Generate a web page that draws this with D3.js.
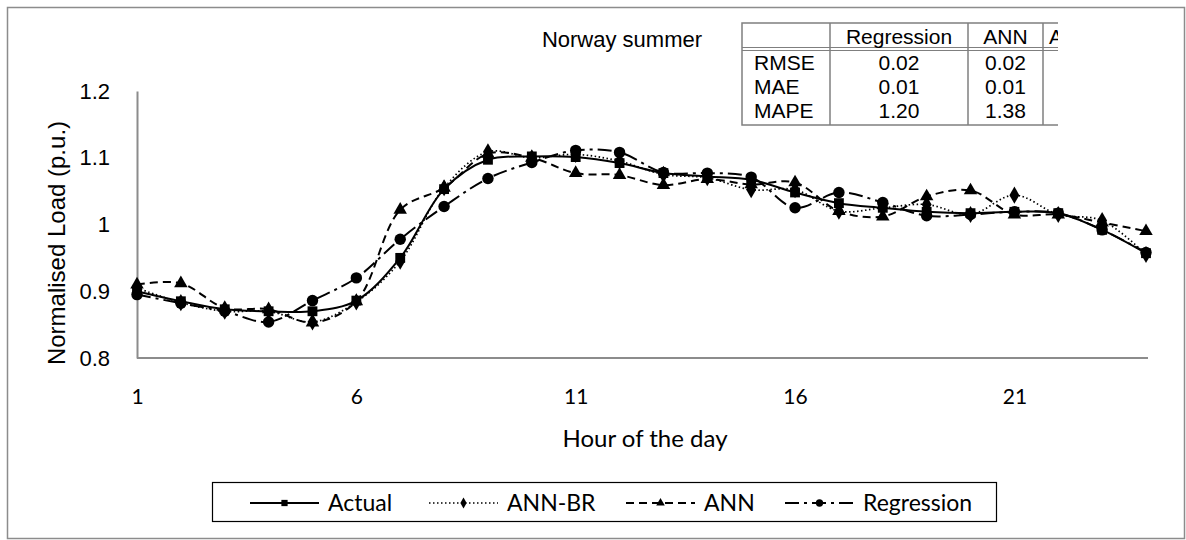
<!DOCTYPE html>
<html>
<head>
<meta charset="utf-8">
<script src="https://cdn.jsdelivr.net/npm/d3@7"></script>
<style>
    body { margin: 0; background: #fff; }
    svg text { fill: #000; }
</style>
</head>
<body>
<svg id="svgc" width="1186" height="540"></svg>
<script>
/*global d3 */

var hours = d3.range(1, 25),
    xTickLabels = [1, 6, 11, 16, 21],
    yTickLabels = [0.8, 0.9, 1, 1.1, 1.2],
    actual = [0.900, 0.885, 0.873, 0.870, 0.870, 0.886, 0.950, 1.053,
              1.097, 1.102, 1.101, 1.092, 1.077, 1.072, 1.067, 1.048,
              1.032, 1.025, 1.019, 1.017, 1.019, 1.017, 0.992, 0.957],
    annbr = [0.905, 0.883, 0.870, 0.870, 0.854, 0.884, 0.945, 1.055,
             1.109, 1.100, 1.105, 1.095, 1.075, 1.070, 1.052, 1.052,
             1.020, 1.025, 1.030, 1.015, 1.044, 1.015, 1.006, 0.955],
    ann = [0.910, 0.912, 0.875, 0.873, 0.853, 0.885, 1.022, 1.055,
           1.106, 1.100, 1.077, 1.074, 1.059, 1.068, 1.060, 1.063,
           1.020, 1.012, 1.042, 1.051, 1.015, 1.015, 1.003, 0.990],
    regression = [0.895, 0.882, 0.870, 0.854, 0.886, 0.920, 0.978, 1.027,
                  1.069, 1.093, 1.111, 1.108, 1.078, 1.077, 1.071, 1.025,
                  1.048, 1.033, 1.013, 1.015, 1.019, 1.017, 0.992, 0.958],
    tableCols = ["", "Regression", "ANN", "ANN-BR"],
    tableRows = ["RMSE", "MAE", "MAPE"],
    tableRegression = ["0.02", "0.01", "1.20"],
    tableAnn = ["0.02", "0.01", "1.38"];

(function () {
    "use strict";

    var svg = d3.select("#svgc"),
        plot = {left: 137, right: 1146, top: 91, bottom: 358},
        arial = "Arial, 'Liberation Sans', sans-serif",
        calib = "Lato, 'Open Sans', sans-serif",
        x, y, series, line;

    x = d3.scaleLinear().domain([1, 24]).range([plot.left, plot.right]);
    y = d3.scaleLinear().domain([0.8, 1.2]).range([plot.bottom, plot.top]);

    series = [
        {name: "Actual", vals: actual, dash: null, width: 2, mark: "square"},
        {name: "ANN-BR", vals: annbr, dash: "1.5,2.5", width: 1.7, mark: "diamond"},
        {name: "ANN", vals: ann, dash: "8,5", width: 2, mark: "triangle"},
        {name: "Regression", vals: regression, dash: "14,5,3,5", width: 2, mark: "circle"}];

    line = d3.line()
        .x(function (d, i) { return x(hours[i]); })
        .y(function (d) { return y(d); })
        .curve(d3.curveCatmullRom.alpha(0.5));

    //outer frame
    svg.append("rect")
        .attr("x", 7.5).attr("y", 7.5)
        .attr("width", 1177).attr("height", 531)
        .attr("fill", "none")
        .attr("stroke", "#8c8c8c")
        .attr("stroke-width", 1.5);

    function markerPath (kind, s) {
        var sym = {square: d3.symbolSquare, diamond: d3.symbolDiamond,
                   triangle: d3.symbolTriangle, circle: d3.symbolCircle}[kind],
            size = {square: s * s * 0.8, diamond: s * s * 0.7,
                    triangle: s * s * 0.65, circle: s * s * 0.85}[kind];
        return d3.symbol().type(sym).size(size)();
    }

    //axes
    svg.append("g")
        .attr("transform", "translate(0," + plot.bottom + ")")
        .call(d3.axisBottom(x).tickValues(xTickLabels).tickSize(0)
              .tickPadding(31).tickFormat(d3.format("d")))
        .call(function (g) {
            g.select(".domain").attr("stroke", "#8c8c8c")
                .attr("stroke-width", 2)
                .attr("d", "M" + plot.left + ",0H1148");
            g.selectAll("text")
                .attr("font-family", calib)
                .attr("font-size", 21); });

    svg.append("g")
        .attr("transform", "translate(" + plot.left + ",0)")
        .call(d3.axisLeft(y).tickValues(yTickLabels).tickSize(0)
              .tickPadding(27).tickFormat(d3.format("")))
        .call(function (g) {
            g.select(".domain").attr("stroke", "#8c8c8c")
                .attr("stroke-width", 2);
            g.selectAll("text")
                .attr("font-family", arial)
                .attr("font-size", 22); });

    //series lines and markers
    series.forEach(function (sr) {
        svg.append("path")
            .datum(sr.vals)
            .attr("d", line)
            .attr("fill", "none")
            .attr("stroke", "#000")
            .attr("stroke-width", sr.width)
            .attr("stroke-dasharray", sr.dash);
        svg.append("g").selectAll("path")
            .data(sr.vals)
            .enter().append("path")
            .attr("transform", function (d, i) {
                return "translate(" + x(hours[i]) + "," + y(d) + ")"; })
            .attr("d", markerPath(sr.mark, 11))
            .attr("fill", "#000"); });

    //titles
    svg.append("text")
        .attr("x", 622).attr("y", 47)
        .attr("text-anchor", "middle")
        .attr("font-family", arial)
        .attr("font-size", 22)
        .text("Norway summer");
    svg.append("text")
        .attr("transform", "translate(65,243) rotate(-90)")
        .attr("text-anchor", "middle")
        .attr("font-family", arial)
        .attr("font-size", 24)
        .text("Normalised Load (p.u.)");
    svg.append("text")
        .attr("x", 645).attr("y", 447)
        .attr("text-anchor", "middle")
        .attr("font-family", calib)
        .attr("font-size", 24)
        .text("Hour of the day");

    //error table, cut off at the right as in the source
    (function () {
        var tg = svg.append("g"),
            colX = [742, 830, 968, 1043, 1130],
            rowY = [23, 49, 74, 98, 125],
            clip = "tclip",
            ink = "#222";
        tg.append("clipPath").attr("id", clip)
            .append("rect").attr("x", 738).attr("y", 18)
            .attr("width", 320).attr("height", 115);
        tg = tg.append("g").attr("clip-path", "url(#" + clip + ")");
        tg.append("rect").attr("x", colX[0]).attr("y", rowY[0])
            .attr("width", colX[4] - colX[0]).attr("height", rowY[4] - rowY[0])
            .attr("fill", "#fff").attr("stroke", "#7f7f7f").attr("stroke-width", 1.5);
        [rowY[1] - 1.5, rowY[1] + 1.5].forEach(function (yy) {
            tg.append("line").attr("x1", colX[0]).attr("x2", colX[4])
                .attr("y1", yy).attr("y2", yy)
                .attr("stroke", "#7f7f7f").attr("stroke-width", 1.2); });
        colX.slice(1, 4).forEach(function (xx) {
            tg.append("line").attr("x1", xx).attr("x2", xx)
                .attr("y1", rowY[0]).attr("y2", rowY[4])
                .attr("stroke", "#7f7f7f").attr("stroke-width", 1.5); });
        tableCols.forEach(function (c, i) {
            if (i === 0) { return; }
            tg.append("text")
                .attr("x", i === 3 ? colX[3] + 6 : (colX[i] + colX[i + 1]) / 2)
                .attr("y", 44)
                .attr("text-anchor", i === 3 ? "start" : "middle")
                .attr("font-family", arial)
                .attr("font-size", 21).attr("fill", ink)
                .text(c); });
        tableRows.forEach(function (r, i) {
            var yy = 70 + i * 24;
            tg.append("text").attr("x", 754).attr("y", yy)
                .attr("font-family", arial)
                .attr("font-size", 21).attr("fill", ink).text(r);
            tg.append("text").attr("x", (colX[1] + colX[2]) / 2).attr("y", yy)
                .attr("text-anchor", "middle")
                .attr("font-family", arial)
                .attr("font-size", 21).attr("fill", ink).text(tableRegression[i]);
            tg.append("text").attr("x", (colX[2] + colX[3]) / 2).attr("y", yy)
                .attr("text-anchor", "middle")
                .attr("font-family", arial)
                .attr("font-size", 21).attr("fill", ink).text(tableAnn[i]); });
    }());

    //legend
    (function () {
        var lg = svg.append("g"),
            itemX = [250, 429, 626, 785],
            lw = 69, ly = 503;
        lg.append("rect")
            .attr("x", 212.5).attr("y", 482.5)
            .attr("width", 784).attr("height", 39)
            .attr("fill", "#fff").attr("stroke", "#000").attr("stroke-width", 1.2);
        series.forEach(function (sr, i) {
            lg.append("line")
                .attr("x1", itemX[i]).attr("x2", itemX[i] + lw)
                .attr("y1", ly).attr("y2", ly)
                .attr("stroke", "#000")
                .attr("stroke-width", sr.width)
                .attr("stroke-dasharray", sr.dash);
            lg.append("path")
                .attr("transform", "translate(" + (itemX[i] + lw / 2) + "," + ly + ")")
                .attr("d", markerPath(sr.mark, 7))
                .attr("fill", "#000");
            lg.append("text")
                .attr("x", itemX[i] + lw + 9).attr("y", ly + 8)
                .attr("font-family", calib)
                .attr("font-size", 23)
                .text(sr.name); });
    }());
}());
</script>
</body>
</html>
